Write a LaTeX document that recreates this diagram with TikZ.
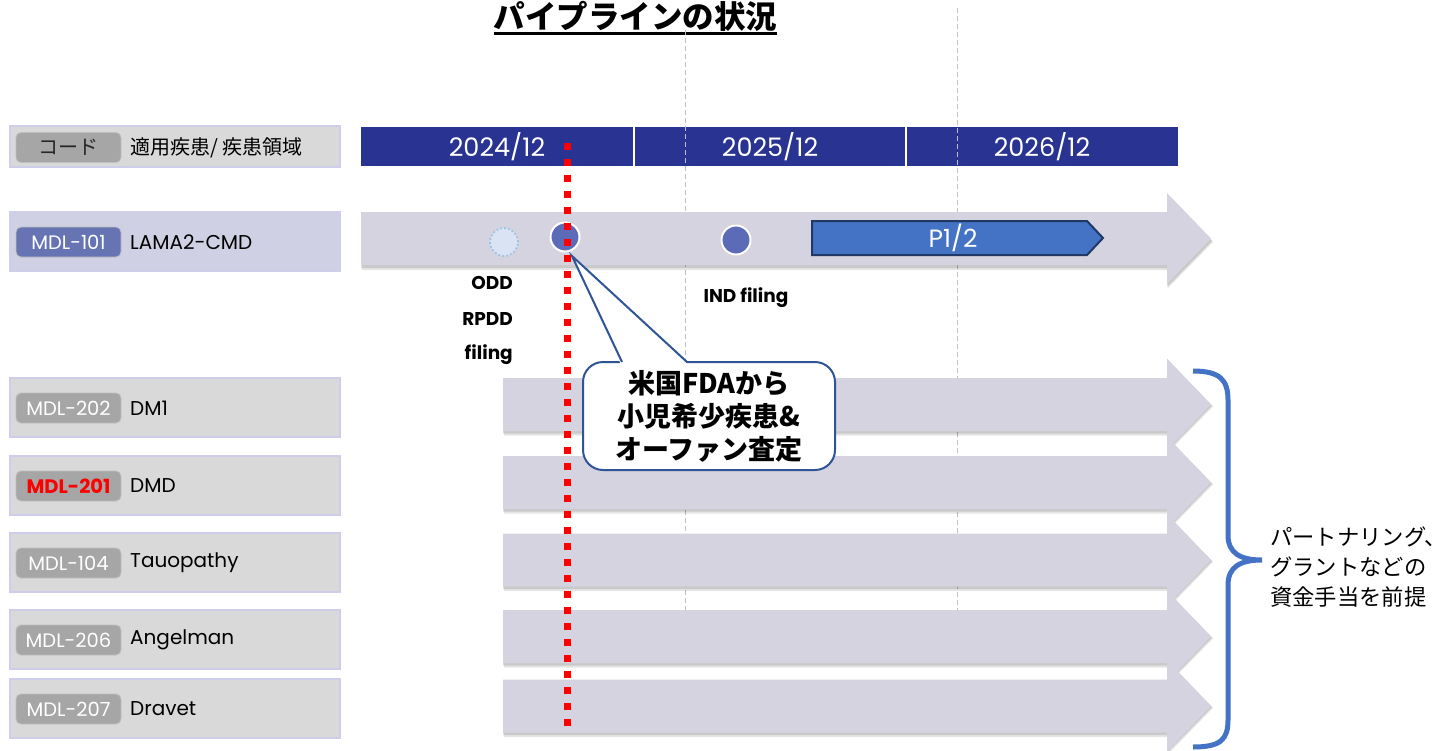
\documentclass[tikz,border=0pt]{standalone}
\usepackage{fontspec}
\setmainfont{Poppins}
\newfontfamily\cjk{Noto Sans CJK JP}
\definecolor{navy}{RGB}{41,51,146}
\definecolor{boxgray}{RGB}{217,217,217}
\definecolor{boxline}{RGB}{206,206,234}
\definecolor{lav}{RGB}{208,208,228}
\definecolor{pillgray}{RGB}{166,166,166}
\definecolor{pillblue}{RGB}{102,116,180}
\definecolor{arrowfill}{RGB}{212,211,223}
\definecolor{dotblue}{RGB}{91,107,184}
\definecolor{oddfill}{RGB}{218,227,243}
\definecolor{oddline}{RGB}{157,195,230}
\definecolor{pblue}{RGB}{68,114,196}
\definecolor{pborder}{RGB}{31,56,100}
\definecolor{calloutline}{RGB}{47,85,151}
\definecolor{gridgray}{RGB}{191,191,191}
\definecolor{bracecol}{RGB}{68,114,196}
\begin{document}
\begin{tikzpicture}[x=1pt,y=-1pt,
  rowbox/.style={draw=boxline,line width=1.5pt,fill=boxgray,minimum width=330pt,minimum height=59pt,inner sep=0pt},
  pill/.style={draw=black!25,line width=0.8pt,fill=pillgray,rounded corners=5pt,minimum width=105pt,minimum height=30pt,inner sep=0pt,text=white,font=\fontsize{19.5}{22}\selectfont},
  rowlabel/.style={anchor=west,inner sep=0pt,font=\fontsize{20}{24}\selectfont},
  arrowbody/.style={fill=arrowfill},
  ms/.style={circle,draw=white,line width=2pt,fill=dotblue,minimum size=29pt,inner sep=0pt},
  mslabel/.style={inner sep=0pt,font=\bfseries\fontsize{18.5}{20}\selectfont},
  year/.style={text=white,inner sep=0pt,font=\fontsize{25.5}{28}\selectfont},
  gridline/.style={draw=gridgray,line width=1pt,dash pattern=on 5pt off 3pt},
  redline/.style={draw=red,line width=7pt,dash pattern=on 7pt off 9pt},
  callout/.style={draw=calloutline,line width=2pt,fill=white,rounded corners=20pt,minimum width=252pt,minimum height=108pt,inner sep=0pt,align=center,font=\cjk\bfseries\fontsize{27}{33}\selectfont},
]
\useasboundingbox (0,0) rectangle (1451,750);

% title
\node[anchor=base,inner sep=0pt,font=\cjk\bfseries\fontsize{31.5}{34}\selectfont] (title) at (635.5,28) {パイプラインの状況};
\draw[line width=3pt] (title.west |- 0,33) -- (title.east |- 0,33);

% header bar
\node[fill=navy,minimum width=817pt,minimum height=39pt,inner sep=0pt,anchor=north west] (hdr) at (361,127) {};
\draw[white,line width=2pt] (634,127) -- (634,166);
\draw[white,line width=2pt] (906,127) -- (906,166);
\node[year] (y1) at (497,147) {2024/12};
\node[year] (y2) at (770,147) {2025/12};
\node[year] (y3) at (1042,147) {2026/12};

% grid lines
\draw[gridline] (685,30) -- (685,610);
\draw[gridline] (957,8) -- (957,610);

% left header
\node[rowbox,minimum height=41pt] (hbox) at (175,146.5) {};
\node[pill,text=black!85,font=\cjk\fontsize{20}{22}\selectfont] (hpill) at (68.5,147.5) {コード};
\node[rowlabel,font=\cjk\fontsize{20}{24}\selectfont] (hlab) at (130,147.5) {適用疾患/ 疾患領域};

% row 1 arrow
\fill[black,opacity=0.10] (362,214) -- (1168,214) -- (1168,195) -- (1213,242) -- (1168,288) -- (1168,270) -- (362,270) -- cycle;
\fill[black,opacity=0.12] (361,213) -- (1167,213) -- (1167,194) -- (1212,241) -- (1167,287) -- (1167,268) -- (361,268) -- cycle;
\fill[arrowbody] (361,212) -- (1167,212) -- (1167,193) -- (1211,238.5) -- (1167,284) -- (1167,265) -- (361,265) -- cycle;

% row arrows 2-6
\foreach \c in {404.5,482.5,560,636.5,706}{
  \fill[black,opacity=0.10] (504,{\c-25}) -- (1168,{\c-25}) -- (1168,{\c-44}) -- (1213,{\c+2}) -- (1168,{\c+48}) -- (1168,{\c+31}) -- (504,{\c+31}) -- cycle;
  \fill[black,opacity=0.12] (503,{\c-26}) -- (1167,{\c-26}) -- (1167,{\c-45}) -- (1212,{\c+1}) -- (1167,{\c+47}) -- (1167,{\c+29}) -- (503,{\c+29}) -- cycle;
  \fill[arrowbody] (503,{\c-26.5}) -- (1167,{\c-26.5}) -- (1167,{\c-46}) -- (1211,\c) -- (1167,{\c+46}) -- (1167,{\c+26.5}) -- (503,{\c+26.5}) -- cycle;
}

% row 1 box
\node[rowbox,fill=lav] (b1) at (175,241.5) {};
\node[pill,fill=pillblue] (p1) at (68.5,242) {MDL-101};
\node[rowlabel] (l1) at (130,242) {LAMA2-CMD};

% rows 2-6 boxes
\foreach \n/\y/\code/\name in {2/407.5/MDL-202/DM1,3/485.5/{\textcolor{red}{\bfseries MDL-201}}/DMD,4/562.5/MDL-104/Tauopathy,5/639.5/MDL-206/Angelman,6/708.5/MDL-207/Dravet}{
  \node[rowbox] (b\n) at (175,\y) {};
  \node[pill] (p\n) at (68.5,{\y+0.5}) {\code};
  \node[rowlabel] (l\n) at (130,{\y+0.5}) {\name};
}

% milestones row 1
\node[circle,draw=oddline,line width=1.8pt,dash pattern=on 1.8pt off 2.2pt,fill=oddfill,minimum size=28pt,inner sep=0pt] (m0) at (504,242) {};
\node[ms] (m1) at (565,237) {};
\node[ms] (m2) at (736,240) {};
\draw[pborder,line width=2pt,fill=pblue] (812,221) -- (1087,221) -- (1103,238) -- (1087,255) -- (812,255) -- cycle;
\node[year,font=\fontsize{25}{28}\selectfont] (phl) at (953,238) {P1/2};

% milestone labels
\node[mslabel,anchor=east] (t1) at (513,283) {ODD};
\node[mslabel,anchor=east] (t2) at (513,319) {RPDD};
\node[mslabel,anchor=east] (t3) at (513,355) {filing};
\node[mslabel] (t4) at (746,298) {IND filing};

% red dotted today line
\coordinate (rtop) at (567,143);
\coordinate (rbot) at (567,727);
\draw[redline] (rtop) -- (rbot);

% callout
\node[callout] (co) at (709,416) {米国FDAから\\小児希少疾患\&\\オーファン査定};
\coordinate (tip) at (572,256);
\coordinate (cb1) at (622,362);
\coordinate (cb2) at (687,362);
\fill[white] (621,364.5) -- (tip) -- (688,364.5) -- cycle;
\draw[calloutline,line width=2pt,line join=miter] (cb1) -- (tip) -- (cb2);

% brace
\draw[bracecol,line width=5pt] (1193,371) .. controls (1220,371) and (1228,380) .. (1228,400) -- (1228,535) .. controls (1228,553) and (1240,560) .. (1262,560) .. controls (1240,560) and (1228,567) .. (1228,585) -- (1228,720) .. controls (1228,740) and (1220,747) .. (1193,747);
\node[anchor=west,inner sep=0pt,align=left,font=\cjk\fontsize{22.3}{30}\selectfont] (note) at (1270,567) {パートナリング、\\グラントなどの\\資金手当を前提};
\end{tikzpicture}
\end{document}
